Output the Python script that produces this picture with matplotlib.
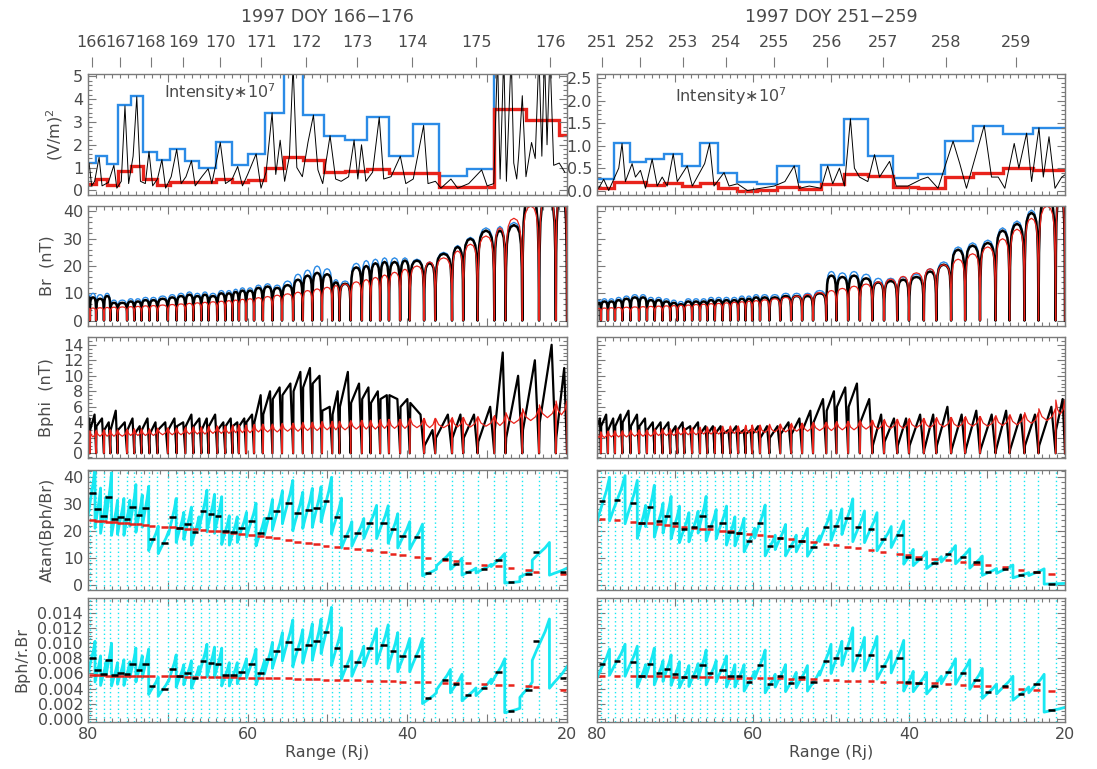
import numpy as np
import matplotlib
matplotlib.use("Agg")
import matplotlib.pyplot as plt
import matplotlib.ticker as mt

# ---------------------------------------------------------------- data
# top axis: day-of-year marks, in range (Rj)
DOY_L = ["166", "167", "168", "169", "170", "171", "172", "173", "174", "175", "176"]
DOY_R_L = [79.54, 75.97, 72.12, 68.04, 63.41, 58.31, 52.66, 46.31, 39.36, 31.34, 22.08]
DOY_R = ["251", "252", "253", "254", "255", "256", "257", "258", "259"]
DOY_R_R = [79.36, 74.43, 68.98, 63.41, 57.28, 50.55, 43.27, 35.21, 26.29]

# intensity panel: bin edges, max (blue) and mean (red) per bin, raw trace (black)
TOP_EDGES_L = [80.0, 78.98, 77.6, 76.2, 74.6, 73.1, 71.3, 69.7, 67.8, 66.1, 64.0, 61.9, 59.9,
               57.8, 55.5, 53.1, 50.5, 47.8, 45.1, 42.3, 39.3, 36.0, 32.5, 29.1, 25.14, 20.97, 20.0]
TOP_MAX_L = [1.2, 1.5, 1.15, 3.75, 4.15, 1.7, 1.35, 1.8, 1.3, 1.0, 2.1, 1.1, 1.6, 3.4, 6.0,
             3.3, 2.4, 2.2, 3.2, 1.5, 2.9, 0.65, 0.95, 6.0, 6.0, 6.0]
TOP_MEAN_L = [0.3, 0.5, 0.25, 0.85, 1.05, 0.5, 0.25, 0.35, 0.35, 0.35, 0.5, 0.35, 0.45, 1.0,
              1.45, 1.35, 0.8, 0.85, 0.95, 0.75, 0.78, 0.15, 0.15, 3.55, 3.1, 2.45]
TRACE_R_L = [79.86, 79.54, 79.17, 78.61, 78.24, 77.45, 76.76, 76.39, 75.83, 75.37, 74.91, 74.35,
             73.89, 73.43, 72.82, 72.36, 71.9, 71.3, 70.74, 70.28, 69.58, 68.89, 68.33, 67.73,
             67.04, 66.57, 65.74, 64.95, 64.49, 63.43, 62.78, 61.94, 61.25, 60.65, 60.0, 58.94,
             58.33, 57.69, 56.94, 56.48, 55.93, 55.37, 54.77, 54.31, 53.84, 53.15, 52.45, 51.76,
             51.2, 50.6, 49.68, 48.98, 48.29, 47.36, 46.67, 46.2, 45.74, 45.19, 44.35, 43.52,
             42.96, 42.04, 40.88, 40.19, 39.26, 37.96, 37.41, 36.48, 35.79, 34.54, 33.7, 32.31,
             30.69, 30.0, 29.17, 28.7, 28.38, 27.92, 27.59, 26.99, 26.67, 26.3, 26.06, 25.6,
             25.14, 24.44, 23.98, 23.52, 23.15, 22.82, 22.5, 22.13, 21.67, 20.97, 20.28]
TRACE_V_L = [1.2, 0.2, 0.4, 1.45, 0.2, 0.35, 1.1, 0.1, 0.4, 3.7, 0.3, 1.5,
             4.1, 0.4, 0.3, 1.7, 0.2, 0.5, 1.35, 0.1, 0.6, 1.8, 0.3, 0.6,
             1.3, 0.2, 0.6, 0.95, 0.3, 2.1, 0.3, 0.5, 1.05, 0.2, 0.7, 1.6,
             0.1, 0.8, 3.4, 0.7, 2.2, 0.4, 1.5, 5.5, 1.0, 0.6, 2.1, 3.3,
             0.9, 0.3, 2.4, 0.5, 0.4, 0.6, 2.2, 0.5, 2.0, 0.4, 0.8, 3.2,
             0.5, 0.6, 1.5, 0.3, 0.5, 2.85, 0.3, 0.4, 0.1, 0.5, 0.1, 0.3,
             0.9, 0.2, 0.3, 6.0, 0.5, 6.0, 0.4, 6.0, 1.2, 0.5, 1.5, 4.15,
             0.6, 2.1, 1.4, 6.0, 1.5, 6.0, 2.0, 6.0, 1.1, 1.2, 0.8]

TOP_EDGES_R = [80.0, 77.86, 75.71, 73.66, 71.43, 69.16, 66.8, 64.44, 62.0, 59.43, 56.86, 54.07,
               51.28, 48.37, 45.28, 42.07, 38.85, 35.42, 31.78, 27.92, 24.06, 20.0]
TOP_MAX_R = [0.25, 1.05, 0.63, 0.7, 0.82, 0.55, 1.05, 0.4, 0.2, 0.15, 0.55, 0.2, 0.58, 1.6,
             0.78, 0.27, 0.37, 1.1, 1.45, 1.25, 1.4]
TOP_MEAN_R = [0.05, 0.2, 0.19, 0.13, 0.17, 0.11, 0.17, 0.06, 0.0, 0.02, 0.08, 0.04, 0.15, 0.36,
              0.32, 0.08, 0.06, 0.3, 0.4, 0.5, 0.45]
TRACE_R_R = [79.79, 79.14, 78.5, 77.21, 76.79, 76.36, 75.5, 75.07, 74.43, 73.78, 72.93, 72.28,
             71.64, 71.0, 70.23, 69.71, 68.43, 67.78, 66.2, 65.56, 65.0, 63.71, 63.07, 62.0,
             60.71, 59.0, 57.28, 55.91, 54.71, 54.07, 52.78, 51.28, 50.42, 49.78, 48.92, 48.28,
             47.51, 47.0, 46.35, 45.28, 44.42, 43.78, 42.49, 41.64, 40.14, 38.42, 37.57, 36.28,
             34.35, 33.49, 32.63, 30.36, 29.42, 28.56, 27.71, 26.51, 25.91, 24.92, 24.28, 23.34,
             22.78, 22.05, 21.28, 20.42, 20.0]
TRACE_V_R = [0.05, 0.25, 0.0, 0.5, 1.05, 0.2, 0.6, 0.3, 0.45, 0.05, 0.7, 0.1,
             0.3, 0.1, 0.82, 0.2, 0.55, 0.1, 0.6, 1.05, 0.1, 0.4, 0.1, 0.15,
             0.0, 0.05, 0.1, 0.2, 0.55, 0.05, 0.1, 0.05, 0.55, 0.15, 0.5, 0.1,
             1.6, 0.5, 0.3, 0.2, 0.8, 0.3, 0.65, 0.1, 0.1, 0.25, 0.3, 0.05,
             1.1, 0.6, 0.05, 1.45, 0.3, 0.3, 0.05, 1.05, 0.5, 1.28, 0.2, 1.4,
             0.3, 1.2, 0.05, 0.3, 0.35]

# current-sheet crossings (Rj)
CROSS_L = [79.77, 78.98, 78.0, 77.2, 76.3, 75.1, 74.2, 73.3, 72.3, 71.3, 70.0, 68.9, 67.8,
           66.8, 65.8, 64.9, 63.8, 62.8, 61.9, 61.1, 60.2, 59.2, 58.1, 56.9, 55.7, 54.3, 53.1,
           51.9, 50.7, 49.4, 48.5, 47.1, 45.7, 44.6, 43.4, 42.3, 40.9, 39.7, 37.9, 36.5, 34.4,
           33.0, 31.2, 29.1, 27.7, 25.6, 23.5, 21.4]
CROSS_R = [79.5, 78.6, 77.7, 76.75, 75.7, 74.6, 73.6, 72.6, 71.6, 70.6, 69.7, 68.8, 67.8,
           66.8, 65.85, 64.9, 63.9, 62.9, 61.9, 60.95, 60.1, 59.1, 57.9, 56.5, 55.1, 53.7, 52.3,
           50.6, 49.3, 47.8, 46.3, 44.7, 43.2, 41.5, 40.0, 38.1, 36.5, 34.6, 32.8, 30.9, 28.9,
           27.1, 25.2, 23.4, 21.2]

# Br per segment between crossings: measured (black), total (blue), model (red)
BR_L = [8.5, 8.5, 8.0, 9.0, 6.5, 6.5, 7.0, 7.0, 7.5, 7.5, 8.0, 8.5, 9.0, 9.5, 9.0, 9.5, 9.0,
        10.0, 10.0, 10.5, 11.0, 11.0, 12.0, 12.5, 12.0, 13.0, 15.0, 16.5, 17.5, 17.0, 14.0,
        13.5, 19.5, 20.0, 21.0, 21.5, 21.5, 22.0, 22.0, 21.0, 24.5, 27.0, 30.0, 33.0, 33.0,
        35.0, 45.0, 45.0, 45.0]
BT_L = [9.5, 10.0, 9.5, 10.0, 7.5, 7.5, 8.0, 8.0, 8.5, 8.5, 9.0, 9.5, 10.0, 10.5, 10.0, 10.5,
        10.0, 11.0, 11.0, 11.5, 12.0, 12.0, 13.0, 13.5, 13.0, 14.5, 17.0, 18.5, 20.0, 19.0,
        15.0, 14.5, 21.0, 22.0, 22.5, 23.0, 23.0, 23.0, 22.5, 21.5, 25.0, 27.5, 30.5, 34.0,
        34.5, 36.0, 46.0, 46.0, 46.0]
MBR_L = [4.5, 4.6, 4.7, 4.8, 4.9, 5.0, 5.1, 5.2, 5.4, 5.5, 5.7, 5.9, 6.1, 6.3, 6.5, 6.7, 6.9,
         7.1, 7.3, 7.5, 7.8, 8.0, 8.4, 8.8, 9.3, 9.8, 10.4, 11.0, 11.6, 12.2, 12.8, 13.4, 14.2,
         15.0, 15.8, 16.7, 17.7, 18.8, 20.0, 21.5, 23.0, 25.5, 28.0, 31.0, 34.0, 37.5, 42.0,
         46.0, 48.0]
BR_R = [6.5, 7.0, 7.0, 7.5, 8.0, 8.5, 8.5, 7.5, 7.5, 7.0, 6.5, 6.0, 7.0, 7.0, 7.0, 7.5, 7.5,
        7.5, 7.5, 8.0, 8.0, 8.5, 8.5, 8.5, 9.0, 9.0, 9.0, 10.0, 16.5, 16.0, 16.5, 15.5, 14.0,
        14.5, 15.0, 16.0, 18.0, 20.5, 26.0, 27.5, 28.5, 33.0, 35.5, 39.5, 45.0, 45.0]
BT_R = [7.5, 8.0, 8.0, 8.5, 9.0, 9.5, 9.5, 8.5, 8.5, 8.0, 7.5, 7.0, 8.0, 8.0, 8.0, 8.5, 8.5,
        8.5, 8.5, 9.0, 9.0, 9.5, 9.5, 9.5, 10.0, 10.0, 10.0, 11.0, 18.0, 17.5, 18.0, 17.0,
        15.5, 15.5, 16.0, 17.0, 19.0, 21.5, 27.0, 28.5, 29.5, 34.0, 36.5, 40.5, 46.0, 46.0]
MBR_R = [4.5, 4.6, 4.7, 4.8, 4.9, 5.0, 5.1, 5.2, 5.3, 5.4, 5.5, 5.6, 5.7, 5.9, 6.0, 6.2, 6.3,
         6.5, 6.7, 6.9, 7.1, 7.3, 7.6, 8.0, 8.5, 9.0, 9.6, 10.3, 11.0, 11.8, 12.6, 13.4, 14.2,
         15.2, 16.2, 17.5, 19.0, 20.5, 22.5, 24.5, 27.0, 30.0, 33.5, 37.5, 42.0, 46.0]

# Bphi per segment: value after the crossing, value before the next one, model level
BPA_L = [3.5, 3.0, 3.5, 3.0, 3.0, 3.0, 3.0, 2.5, 3.0, 2.5, 3.0, 3.0, 3.5, 3.5, 3.5, 3.0, 3.5,
         3.0, 3.5, 3.5, 3.5, 4.0, 4.0, 5.0, 7.0, 7.5, 8.0, 8.5, 9.0, 5.5, 5.0, 6.0, 6.5, 7.0,
         6.5, 7.0, 7.5, 6.0, 6.5, 1.0, 2.0, 2.0, 2.0, 1.5, 3.0, 2.0, 3.0, 4.0, 2.0]
BPB_L = [4.5, 5.0, 4.5, 4.0, 5.5, 4.0, 4.5, 3.5, 4.5, 4.0, 4.0, 4.5, 4.0, 5.0, 4.5, 4.5, 5.0,
         4.0, 4.5, 4.0, 4.5, 5.0, 7.5, 8.0, 8.5, 9.0, 10.5, 11.0, 10.0, 6.0, 8.0, 10.5, 9.0,
         8.5, 8.0, 7.5, 7.0, 7.0, 5.0, 3.0, 5.0, 5.0, 5.0, 6.0, 13.0, 10.0, 12.0, 14.0, 11.0]
MBP_L = [2.3, 2.3, 2.4, 2.4, 2.4, 2.4, 2.5, 2.5, 2.5, 2.5, 2.6, 2.6, 2.6, 2.7, 2.7, 2.7, 2.8,
         2.8, 2.8, 2.9, 2.9, 2.9, 3.0, 3.0, 3.0, 3.1, 3.1, 3.2, 3.2, 3.3, 3.3, 3.3, 3.4, 3.4,
         3.4, 3.5, 3.5, 3.5, 3.6, 3.6, 3.6, 3.7, 3.7, 3.8, 3.9, 4.2, 4.6, 5.0, 5.4]
BPA_R = [3.5, 3.5, 3.0, 3.5, 4.0, 3.5, 3.5, 3.0, 3.0, 3.0, 2.5, 3.0, 3.0, 3.0, 2.5, 2.5, 2.5,
         2.5, 2.5, 2.5, 2.5, 2.5, 2.0, 2.0, 2.5, 2.5, 3.0, 4.0, 5.5, 6.0, 6.0, 4.0, 1.0, 1.5,
         1.0, 1.0, 0.5, 1.0, 0.5, 0.5, 0.5, 0.5, 0.5, 1.0, 1.0, 3.0]
BPB_R = [4.5, 5.0, 4.5, 5.0, 5.5, 5.0, 4.5, 4.0, 4.0, 4.0, 3.5, 4.0, 3.5, 4.0, 3.5, 3.5, 3.5,
         3.0, 3.5, 3.0, 3.0, 3.5, 3.5, 3.5, 4.0, 4.5, 5.5, 7.0, 8.0, 8.5, 9.0, 7.0, 5.0, 4.5,
         4.5, 5.0, 5.0, 6.0, 5.0, 5.5, 5.0, 5.5, 5.0, 5.0, 6.0, 7.0]
MBP_R = [2.2, 2.2, 2.3, 2.3, 2.3, 2.4, 2.4, 2.4, 2.5, 2.5, 2.5, 2.6, 2.6, 2.6, 2.7, 2.7, 2.7,
         2.8, 2.8, 2.8, 2.9, 2.9, 2.9, 3.0, 3.0, 3.1, 3.1, 3.2, 3.2, 3.3, 3.3, 3.4, 3.4, 3.5,
         3.5, 3.6, 3.6, 3.7, 3.7, 3.8, 3.8, 3.9, 4.0, 4.2, 4.6, 5.5]

# sweep-back angle and Bph/r.Br: segment means (black dashes) and model (red dashes)
SEG_R_L = [79.44, 78.8, 78.05, 77.4, 76.7, 75.9, 75.1, 74.4, 73.6, 72.8, 72.0, 70.4, 69.4,
           68.5, 67.5, 66.6, 65.6, 64.6, 63.7, 62.8, 61.8, 60.8, 59.5, 58.4, 57.4, 56.4, 54.9,
           53.8, 52.4, 51.4, 50.2, 48.8, 47.7, 46.2, 44.7, 43.0, 41.8, 40.6, 38.8, 37.4, 35.3,
           33.9, 32.4, 30.4, 28.6, 27.0, 24.8, 23.9, 20.5]
ATAN_L = [34.0, 28.0, 25.5, 32.4, 24.5, 25.0, 24.5, 29.0, 26.0, 28.5, 17.0, 15.5, 25.0, 21.0,
          22.5, 19.7, 27.4, 26.2, 25.5, 20.0, 19.7, 21.0, 23.6, 19.3, 24.7, 27.2, 30.2, 26.8,
          27.9, 28.4, 31.1, 25.1, 18.3, 19.2, 23.0, 22.9, 20.6, 18.3, 17.6, 4.6, 9.5, 7.8,
          4.9, 6.0, 9.1, 1.0, 4.1, 12.3, 4.9]
ATAN_M_L = [24.0, 23.8, 23.6, 23.4, 23.2, 23.0, 22.8, 22.6, 22.4, 22.2, 22.0, 21.6, 21.3,
            21.0, 20.8, 20.6, 20.3, 20.0, 19.8, 19.5, 19.2, 18.9, 18.5, 18.1, 17.7, 17.3, 16.6,
            16.1, 15.4, 15.0, 14.5, 14.0, 13.6, 13.2, 12.8, 12.2, 11.6, 11.0, 10.4, 10.0, 9.4,
            8.8, 8.2, 7.4, 6.9, 6.3, 5.4, 5.0, 4.2]
PITCH_L = [8.0, 6.5, 5.9, 7.8, 5.8, 6.1, 5.9, 7.3, 6.5, 7.2, 4.3, 4.0, 6.6, 5.6, 6.0, 5.4, 7.7,
           7.4, 7.3, 5.8, 5.8, 6.2, 7.2, 6.0, 7.9, 8.9, 10.2, 9.2, 9.8, 10.3, 11.5, 9.4, 7.0,
           7.5, 9.3, 9.7, 8.9, 8.3, 8.3, 2.7, 5.1, 4.6, 3.2, 4.1, 6.2, 1.1, 3.8, 10.3, 5.4]
PITCH_M_L = [5.75, 5.75, 5.74, 5.73, 5.72, 5.71, 5.7, 5.69, 5.68, 5.67, 5.66, 5.64, 5.62,
             5.6, 5.59, 5.58, 5.56, 5.54, 5.52, 5.5, 5.48, 5.46, 5.44, 5.42, 5.4, 5.38, 5.35,
             5.32, 5.28, 5.25, 5.2, 5.15, 5.12, 5.08, 5.04, 5.0, 4.96, 4.92, 4.88, 4.85, 4.8,
             4.75, 4.68, 4.6, 4.52, 4.45, 4.3, 4.2, 3.85]
SEG_R_R = [79.36, 77.43, 75.37, 74.3, 73.23, 72.07, 71.0, 70.0, 68.86, 67.57, 66.5, 65.51,
           63.93, 62.86, 61.78, 60.5, 59.08, 57.8, 56.51, 55.14, 53.77, 52.27, 50.64, 49.35,
           47.85, 46.56, 44.85, 43.35, 41.21, 40.14, 38.77, 36.71, 35.0, 33.07, 31.35, 29.85,
           27.7, 25.65, 23.64, 21.71]
ATAN_R = [31.1, 31.6, 30.2, 23.0, 28.8, 23.6, 25.6, 22.8, 20.9, 21.3, 25.6, 21.8, 22.8, 19.7,
          19.3, 16.4, 23.1, 14.4, 17.5, 14.4, 16.4, 14.2, 21.5, 22.0, 24.9, 21.4, 20.9, 16.9,
          18.5, 10.3, 9.6, 8.2, 11.4, 10.5, 8.4, 4.8, 5.8, 3.6, 4.7, 0.5]
ATAN_M_R = [24.4, 24.0, 23.4, 23.1, 22.8, 22.5, 22.2, 21.9, 21.6, 21.2, 20.9, 20.6, 20.1,
            19.8, 19.4, 19.0, 18.5, 18.0, 17.5, 17.0, 16.4, 15.8, 15.2, 14.7, 14.1, 13.6, 12.9,
            12.3, 11.5, 11.0, 10.5, 9.8, 9.2, 8.5, 7.9, 7.4, 6.6, 5.7, 4.8, 4.0]
PITCH_R = [7.2, 7.7, 7.5, 5.6, 7.3, 6.0, 6.6, 5.9, 5.5, 5.7, 7.1, 6.0, 6.5, 5.6, 5.6, 4.9, 7.1,
           4.6, 5.6, 4.8, 5.5, 4.9, 7.7, 8.0, 9.4, 8.4, 8.5, 7.0, 8.1, 4.9, 4.8, 4.4, 6.2, 6.1,
           5.2, 3.6, 4.4, 3.3, 4.6, 1.2]
PITCH_M_R = [5.7, 5.68, 5.66, 5.65, 5.64, 5.62, 5.6, 5.58, 5.56, 5.54, 5.52, 5.5, 5.48, 5.46,
             5.45, 5.42, 5.4, 5.37, 5.34, 5.3, 5.26, 5.22, 5.17, 5.12, 5.07, 5.02, 4.97, 4.92,
             4.85, 4.8, 4.75, 4.68, 4.6, 4.5, 4.4, 4.3, 4.15, 4.0, 3.85, 3.65]

# ---------------------------------------------------------------- look
TXT = "#4a4a4a"
GREY = "#7a7a7a"
BLUE = "#2b8be6"
RED = "#e8231b"
CYAN = "#18e8f2"

# shapes used between two crossings (fraction of segment, fraction of level)
ARCH_F = [0.0, 0.03, 0.08, 0.16, 0.3, 0.5, 0.7, 0.84, 0.92, 0.97, 1.0]
ARCH_H = [0.0, 0.55, 0.8, 0.92, 0.98, 1.0, 0.98, 0.92, 0.8, 0.55, 0.0]
CUSP_F = [0.0, 0.02, 0.2, 0.5, 0.8, 0.98, 1.0]
CUSP_H = [0.0, 1.25, 1.03, 0.92, 1.03, 1.25, 0.0]
SAW_F = [0.0, 0.04, 0.75, 1.0]
RAMP_F = [0.0, 0.25, 0.5, 0.75, 1.0]
RAMP_K = [0.75, 0.88, 1.0, 1.12, 1.28]

plt.rcParams.update({
    "font.family": ["DejaVu Sans"],
    "font.size": 11,
    "text.color": TXT,
    "axes.edgecolor": GREY,
    "axes.linewidth": 1.0,
})

W, H = 1097, 769
fig = plt.figure(figsize=(W / 100, H / 100), dpi=100)

COLS = [(88, 567), (597, 1065)]
ROWS = [(74, 195), (206, 326), (337, 458), (470, 590), (598, 722)]


def rect(col, row):
    x0, x1 = COLS[col]
    y0, y1 = ROWS[row]
    return [x0 / W, 1 - y1 / H, (x1 - x0) / W, (y1 - y0) / H]


def bounds(cross):
    return np.concatenate([[80.0], cross, [20.0]])


def shaped(cross, levels, f, h):
    b = bounds(cross)
    xs, ys = [], []
    for a, c, v in zip(b[:-1], b[1:], levels):
        xs.append(a + (c - a) * np.asarray(f))
        ys.append(v * np.asarray(h))
    return np.concatenate(xs), np.concatenate(ys)


def saw(cross, va, vb):
    b = bounds(cross)
    xs, ys = [], []
    for a, c, p, q in zip(b[:-1], b[1:], va, vb):
        xs.append(a + (c - a) * np.asarray(SAW_F))
        ys.append([0.0, p, q, 0.0])
    return np.concatenate(xs), np.concatenate(ys)


def ramps(seg_r, vals):
    r = np.asarray(seg_r)
    e = np.concatenate([[80.0], (r[:-1] + r[1:]) / 2, [20.0]])
    xs, ys = [], []
    for a, c, v in zip(e[:-1], e[1:], vals):
        xs.append(a + (c - a) * np.asarray(RAMP_F))
        ys.append(v * np.asarray(RAMP_K))
    return np.concatenate(xs), np.concatenate(ys)


def style(ax, ylim, ystep, yminor, fmt="%g", ylabels=True, xlabels=False):
    ax.set_xlim(80, 20)
    ax.set_ylim(*ylim)
    ax.xaxis.set_major_locator(mt.MultipleLocator(10))
    ax.xaxis.set_minor_locator(mt.MultipleLocator(1))
    ax.yaxis.set_major_locator(mt.MultipleLocator(ystep))
    ax.yaxis.set_minor_locator(mt.MultipleLocator(yminor))
    ax.yaxis.set_major_formatter(mt.FormatStrFormatter(fmt))
    ax.tick_params(which="both", direction="in", top=True, right=True,
                   color=GREY, labelcolor=TXT, width=0.8, labelsize=11.5)
    ax.tick_params(which="major", length=6)
    ax.tick_params(which="minor", length=3)
    if xlabels:
        ax.xaxis.set_major_formatter(mt.FuncFormatter(
            lambda v, p: f"{v:.0f}" if abs(v / 20 - round(v / 20)) < 1e-6 else ""))
    else:
        ax.tick_params(labelbottom=False)
    if not ylabels:
        ax.tick_params(labelleft=False)


def doy_axis(ax, pos, labels, title):
    sec = ax.secondary_xaxis(1.058)
    sec.set_xticks(pos, labels=labels)
    sec.xaxis.set_minor_locator(mt.NullLocator())
    for s in sec.spines.values():
        s.set_visible(False)
    sec.tick_params(direction="out", length=7, width=0.8, pad=5,
                    color=GREY, labelcolor=TXT, labelsize=11.5)
    ax.text(0.5, 1.47, title, transform=ax.transAxes, ha="center", va="center",
            fontsize=12.5, color=TXT)


cols = [
    dict(doy=DOY_R_L, doyl=DOY_L, title="1997 DOY 166\u2212176",
         edges=TOP_EDGES_L, tmax=TOP_MAX_L, tmean=TOP_MEAN_L, tr=TRACE_R_L, tv=TRACE_V_L,
         top_ylim=(-0.2, 5.1), top_step=1, top_minor=0.2, top_fmt="%d",
         text_at=(70.5, 4.3),
         cross=CROSS_L, br=BR_L, bt=BT_L, mbr=MBR_L, bpa=BPA_L, bpb=BPB_L, mbp=MBP_L,
         seg=SEG_R_L, atan=ATAN_L, atan_m=ATAN_M_L, pitch=PITCH_L, pitch_m=PITCH_M_L),
    dict(doy=DOY_R_R, doyl=DOY_R, title="1997 DOY 251\u2212259",
         edges=TOP_EDGES_R, tmax=TOP_MAX_R, tmean=TOP_MEAN_R, tr=TRACE_R_R, tv=TRACE_V_R,
         top_ylim=(-0.1, 2.6), top_step=0.5, top_minor=0.1, top_fmt="%.1f",
         text_at=(70.0, 2.1),
         cross=CROSS_R, br=BR_R, bt=BT_R, mbr=MBR_R, bpa=BPA_R, bpb=BPB_R, mbp=MBP_R,
         seg=SEG_R_R, atan=ATAN_R, atan_m=ATAN_M_R, pitch=PITCH_R, pitch_m=PITCH_M_R),
]

for ci, d in enumerate(cols):
    first = ci == 0
    half = 0.42

    # intensity
    ax = fig.add_axes(rect(ci, 0))
    ax.plot(d["tr"], d["tv"], color="black", lw=0.7)
    e = np.asarray(d["edges"])[::-1]
    ax.stairs(np.asarray(d["tmax"])[::-1], e, color=BLUE, lw=1.7, baseline=None)
    ax.stairs(np.asarray(d["tmean"])[::-1], e, color=RED, lw=2.4, baseline=None)
    ax.text(*d["text_at"], "Intensity\u221710$^7$", fontsize=11.5, color=TXT, va="center")
    style(ax, d["top_ylim"], d["top_step"], d["top_minor"], d["top_fmt"], ylabels=True)
    doy_axis(ax, d["doy"], d["doyl"], d["title"])
    if first:
        ax.set_ylabel("(V/m)$^2$", fontsize=11.5, color=TXT, labelpad=6)

    # Br
    ax = fig.add_axes(rect(ci, 1))
    x, y = shaped(d["cross"], d["bt"], ARCH_F, ARCH_H)
    ax.plot(x, y, color=BLUE, lw=1.0)
    x, y = shaped(d["cross"], d["br"], ARCH_F, ARCH_H)
    ax.plot(x, y, color="black", lw=1.8)
    x, y = shaped(d["cross"], d["mbr"], ARCH_F, ARCH_H)
    ax.plot(x, y, color=RED, lw=0.9)
    style(ax, (-2, 42), 10, 2, "%d", ylabels=first)
    if first:
        ax.set_ylabel("Br  (nT)", fontsize=11.5, color=TXT, labelpad=6)

    # Bphi
    ax = fig.add_axes(rect(ci, 2))
    x, y = saw(d["cross"], d["bpa"], d["bpb"])
    ax.plot(x, y, color="black", lw=1.6)
    x, y = shaped(d["cross"], d["mbp"], CUSP_F, CUSP_H)
    ax.plot(x, y, color=RED, lw=0.9)
    style(ax, (-0.6, 15), 2, 0.5, "%d", ylabels=first)
    if first:
        ax.set_ylabel("Bphi  (nT)", fontsize=11.5, color=TXT, labelpad=6)

    # sweep-back angle
    ax = fig.add_axes(rect(ci, 3))
    ylim = (-1.8, 42.5)
    ax.vlines(d["cross"], ylim[0], ylim[1], colors=CYAN, lw=1.0, linestyles=(0, (1, 2)))
    x, y = ramps(d["seg"], d["atan"])
    ax.plot(x, y, color=CYAN, lw=2.0)
    r = np.asarray(d["seg"])
    ax.hlines(d["atan_m"], r - half, r + half, colors=RED, lw=1.8)
    ax.hlines(d["atan"], r - half, r + half, colors="black", lw=1.8)
    style(ax, ylim, 10, 2, "%d", ylabels=first)
    if first:
        ax.set_ylabel("Atan(Bph/Br)", fontsize=11.5, color=TXT, labelpad=6)

    # Bph / r.Br
    ax = fig.add_axes(rect(ci, 4))
    ylim = (-0.0004, 0.01595)
    ax.vlines(d["cross"], ylim[0], ylim[1], colors=CYAN, lw=1.0, linestyles=(0, (1, 2)))
    p = np.asarray(d["pitch"]) * 1e-3
    x, y = ramps(d["seg"], p)
    ax.plot(x, y, color=CYAN, lw=2.0)
    ax.hlines(np.asarray(d["pitch_m"]) * 1e-3, r - half, r + half, colors=RED, lw=1.8)
    ax.hlines(p, r - half, r + half, colors="black", lw=1.8)
    style(ax, ylim, 0.002, 0.0005, "%.3f", ylabels=first, xlabels=True)
    ax.set_xlabel("Range (Rj)", fontsize=11.5, color=TXT, labelpad=2)
    if first:
        ax.set_ylabel("Bph/r.Br", fontsize=11.5, color=TXT, labelpad=6)

fig.savefig("out.png", dpi=100, facecolor="white")
